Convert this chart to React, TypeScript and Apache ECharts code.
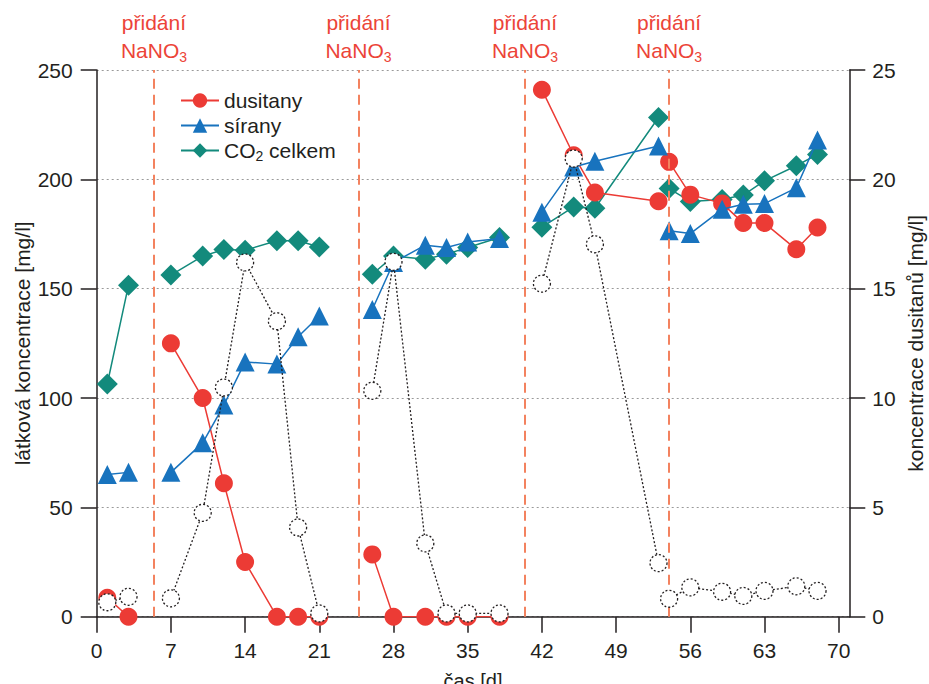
import React, { useEffect, useRef } from 'react';
import * as echarts from 'echarts';

// measurement days [d]
const days = [1, 3, 7, 10, 12, 14, 17, 19, 21, 26, 28, 31, 33, 35, 38, 42, 45, 47, 53, 54, 56, 59, 61, 63, 66, 68];
// days where a new measured segment begins (after NaNO3 addition)
const segmentStarts = [7, 26, 42, 54];
// NaNO3 additions [d]
const additions = [5.4, 24.7, 40.4, 54];

// dusitany – right axis [mg/l]
const dusitany = [0.87, 0, 12.5, 10.0, 6.1, 2.5, 0, 0, 0, 2.85, 0, 0, 0, 0, 0, 24.1, 21.1, 19.4, 19.0, 20.8, 19.3, 18.9, 18.0, 18.0, 16.8, 17.8];
// sírany – left axis [mg/l]
const sirany = [65, 66, 66, 79.5, 96.8, 116.5, 115.5, 128, 137.5, 140.5, 162, 169.9, 168.8, 171.4, 172.9, 185, 205.6, 208.3, 215.2, 176.5, 175.2, 186.3, 188.6, 188.9, 196.1, 218];
// CO2 celkem – left axis [mg/l]
const co2 = [106.4, 151.6, 156.2, 164.9, 167.9, 167.6, 171.9, 171.9, 169.1, 156.6, 164.9, 163.5, 165.8, 168.8, 173.4, 178.1, 187.4, 186.8, 228.3, 195.8, 189.9, 190.8, 192.8, 199.3, 206.2, 211.4];
// open circles (unlabelled series) – left axis [mg/l]
const openSeries = [6.6, 9.1, 8.4, 47.5, 104.8, 162, 135.1, 40.8, 1.5, 103.3, 162.3, 33.5, 1.5, 1.5, 1.5, 152.3, 209.5, 170.3, 24.5, 8.2, 13.4, 11.4, 9.5, 11.8, 13.9, 11.8];

const xTicks = [0, 7, 14, 21, 28, 35, 42, 49, 56, 63, 70];

const FONT = '"Liberation Sans", Arial, Helvetica, sans-serif';
const FS = 21;
const INK = '#231f20';
const RED = '#ec3b35';
const BLUE = '#1873be';
const GREEN = '#138a7c';
const DASH = '#f3825f';
const LABEL_RED = '#ec4438';

function build(values: number[]) {
  const out: any[] = [];
  days.forEach((d, i) => {
    if (segmentStarts.includes(d)) out.push([d - 0.5, '-']);
    out.push([d, values[i]]);
  });
  return out;
}

export default function App() {
  const ref = useRef<HTMLDivElement>(null);
  useEffect(() => {
    if (!ref.current) return;
    const chart = echarts.init(ref.current, undefined, { renderer: 'svg', width: 929, height: 684 });
    const axisCommon = {
      axisLine: { show: true, lineStyle: { color: INK, width: 1.5 } },
      axisTick: { show: true, inside: false, length: 16, lineStyle: { color: INK, width: 1.5 } },
    };
    const txt = { fontSize: FS, color: INK, fontFamily: FONT };
    chart.setOption({
      animation: false,
      backgroundColor: '#ffffff',
      grid: {
        left: 96.7,
        right: 79.7,
        top: 70,
        bottom: 67.3,
        containLabel: false,
        outerBoundsMode: 'none',
      },
      legend: {
        data: ['dusitany', 'sírany', 'CO2 celkem'],
        orient: 'vertical',
        left: 175,
        top: 85,
        itemWidth: 38,
        itemHeight: 18,
        itemGap: 4,
        selectedMode: false,
        formatter: (name: string) =>
          name === 'CO2 celkem' ? '{t|CO}{s|2}{t| celkem}' : '{t|' + name + '}',
        textStyle: {
          ...txt,
          rich: {
            t: { fontSize: FS, lineHeight: 24, color: INK, fontFamily: FONT },
            s: { fontSize: 14, lineHeight: 8, verticalAlign: 'bottom', color: INK, fontFamily: FONT },
          },
        },
      },
      xAxis: {
        type: 'value',
        min: 0,
        max: 71,
        ...axisCommon,
        axisTick: { ...axisCommon.axisTick, customValues: xTicks },
        axisLabel: { customValues: xTicks, ...txt, margin: 23 },
        splitLine: { show: false },
        name: 'čas [d]',
        nameLocation: 'middle',
        nameGap: 54,
        nameMoveOverlap: false,
        nameTextStyle: { ...txt, fontSize: 20 },
      },
      yAxis: [
        {
          type: 'value',
          position: 'left',
          min: 0,
          max: 250,
          interval: 50,
          ...axisCommon,
          axisLabel: { ...txt, margin: 24 },
          splitLine: { show: true, lineStyle: { color: '#9a9a9a', type: [2, 3], width: 1 } },
          name: 'látková koncentrace [mg/l]',
          nameLocation: 'middle',
          nameGap: 64,
          nameMoveOverlap: false,
          nameTextStyle: txt,
        },
        {
          type: 'value',
          position: 'right',
          min: 0,
          max: 25,
          interval: 5,
          ...axisCommon,
          axisLabel: { ...txt, margin: 23 },
          splitLine: { show: false },
          name: 'koncentrace dusitanů [mg/l]',
          nameLocation: 'middle',
          nameGap: 56,
          nameMoveOverlap: false,
          nameTextStyle: txt,
        },
      ],
      series: [
        {
          name: 'CO2 celkem',
          type: 'line',
          yAxisIndex: 0,
          z: 2,
          data: build(co2),
          symbol: 'diamond',
          symbolSize: 21,
          lineStyle: { color: GREEN, width: 1.5 },
          itemStyle: { color: GREEN },
          emphasis: { disabled: true },
          markLine: {
            silent: true,
            symbol: ['none', 'none'],
            lineStyle: { color: DASH, type: [10, 6], width: 2 },
            label: {
              show: true,
              position: 'end',
              distance: 6,
              formatter: '{a|přidání}\n{a|NaNO}{s|3}',
              rich: {
                a: { fontSize: FS, lineHeight: 28, color: LABEL_RED, fontFamily: FONT },
                s: { fontSize: 14, lineHeight: 8, verticalAlign: 'bottom', color: LABEL_RED, fontFamily: FONT },
              },
            },
            emphasis: { disabled: true },
            data: additions.map((x) => ({ xAxis: x })),
          },
        },
        {
          name: 'dusitany',
          type: 'line',
          yAxisIndex: 1,
          z: 3,
          data: build(dusitany),
          symbol: 'circle',
          symbolSize: 18,
          lineStyle: { color: RED, width: 1.5 },
          itemStyle: { color: RED },
          emphasis: { disabled: true },
        },
        {
          name: 'sírany',
          type: 'line',
          yAxisIndex: 0,
          z: 4,
          data: build(sirany),
          symbol: 'triangle',
          symbolSize: 19,
          lineStyle: { color: BLUE, width: 1.5 },
          itemStyle: { color: BLUE },
          emphasis: { disabled: true },
        },
        {
          name: 'dusičnany',
          type: 'line',
          yAxisIndex: 0,
          z: 5,
          data: build(openSeries),
          symbol: 'circle',
          symbolSize: 17,
          lineStyle: { color: INK, width: 1.3, type: [2, 2] },
          itemStyle: { color: '#ffffff', borderColor: INK, borderWidth: 1.3, borderType: [2, 2] },
          emphasis: { disabled: true },
        },
      ],
    });
    return () => chart.dispose();
  }, []);
  return (
    <div
      ref={ref}
      style={{ position: 'fixed', left: 0, top: 0, width: 929, height: 684, background: '#fff' }}
    />
  );
}
